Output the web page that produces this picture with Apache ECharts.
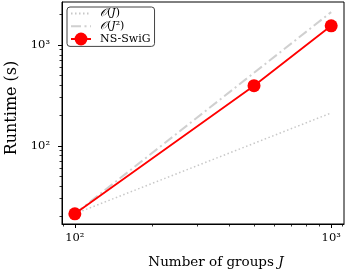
<!DOCTYPE html>
<html><head><meta charset="utf-8">
<script src="https://cdn.jsdelivr.net/npm/echarts@6/dist/echarts.min.js"></script>
<style>html,body{margin:0;padding:0;background:#fff}#c{width:346px;height:275px}</style>
</head><body><div id="c"></div>
<script>
const groupSizes = [100, 500, 1000];
const nsSwigRuntime = [21.2, 395, 1550];
const refJ = [100, 1000];
const orderJ = [21.2, 212];
const orderJ2 = [21.2, 2120];
const xMajorTicks = [100, 1000];
const xMinorTicks = [90, 200, 300, 400, 500, 600, 700, 800, 900, 1100];
const yMajorTicks = [100, 1000];
const yMinorTicks = [20, 30, 40, 50, 60, 70, 80, 90, 200, 300, 400, 500, 600, 700, 800, 900, 2000];
const xRange = [89.1, 1122];
const yRange = [16.8, 2670];
const tickLabels = {100: '10²', 1000: '10³'};
const legendNames = {
  oj: '{c|𝒪}({i|J})',
  oj2: '{c|𝒪}({i|J}²)',
  ns: 'NS-SwiG'
};

const FONT = 'DejaVu Serif';
const zip = (a, b) => a.map((v, i) => [v, b[i]]);
const fmt = v => tickLabels[Math.round(v)] || '';
const gridRect = {left: 62, right: 2, top: 2, bottom: 51, containLabel: false, outerBoundsMode: 'none'};

const logBase = range => ({type: 'log', logBase: 10, min: range[0], max: range[1], splitLine: {show: false}, minorTick: {show: false}});

const xMain = Object.assign(logBase(xRange), {
  gridIndex: 0, position: 'bottom',
  axisLine: {show: true, lineStyle: {color: '#000', width: 1}},
  axisTick: {show: true, customValues: xMajorTicks, length: 4, lineStyle: {color: '#000', width: 1}},
  axisLabel: {show: true, customValues: xMajorTicks, formatter: fmt, fontFamily: FONT, fontSize: 11.5, color: '#000', margin: 8},
  name: '{t|Number of groups }{j|J}', nameLocation: 'middle', nameGap: 31, nameMoveOverlap: false,
  nameTextStyle: {align: 'center', fontFamily: FONT, fontSize: 13.5, color: '#000', padding: [0, 0, 0, 26],
    rich: {t: {fontFamily: FONT, fontSize: 13.5, color: '#000'}, j: {fontFamily: FONT, fontSize: 13.5, fontStyle: 'italic', color: '#000'}}}
});
const xMinor = Object.assign(logBase(xRange), {
  gridIndex: 1, position: 'bottom',
  axisLine: {show: false},
  axisTick: {show: true, customValues: xMinorTicks, length: 2.5, lineStyle: {color: '#000', width: 0.8}},
  axisLabel: {show: false}
});
const yMain = Object.assign(logBase(yRange), {
  gridIndex: 0, position: 'left',
  axisLine: {show: true, lineStyle: {color: '#000', width: 1}},
  axisTick: {show: true, customValues: yMajorTicks, length: 4, lineStyle: {color: '#000', width: 1}},
  axisLabel: {show: true, customValues: yMajorTicks, formatter: fmt, fontFamily: FONT, fontSize: 11.5, color: '#000', margin: 12},
  name: 'Runtime (s)', nameLocation: 'middle', nameGap: 42, nameRotate: 90, nameMoveOverlap: false,
  nameTextStyle: {fontFamily: FONT, fontSize: 16, color: '#000', padding: [0, 0, 0, 10]}
});
const yMinor = Object.assign(logBase(yRange), {
  gridIndex: 1, position: 'left',
  axisLine: {show: false},
  axisTick: {show: true, customValues: yMinorTicks, length: 2.5, lineStyle: {color: '#000', width: 0.8}},
  axisLabel: {show: false}
});

const chart = echarts.init(document.getElementById('c'), null, {renderer: 'canvas'});
chart.setOption({
  animation: false,
  backgroundColor: '#fff',
  grid: [
    Object.assign({show: true, borderColor: '#000', borderWidth: 1, backgroundColor: 'transparent'}, gridRect),
    Object.assign({show: false}, gridRect)
  ],
  xAxis: [xMain, xMinor],
  yAxis: [yMain, yMinor],
  legend: {
    orient: 'vertical', left: 67, top: 7,
    padding: [0, 4, 1, 3], itemGap: 0, itemWidth: 20, itemHeight: 16,
    borderColor: '#444', borderWidth: 1, borderRadius: 3, backgroundColor: '#fff',
    data: [
      {name: 'oj', itemStyle: {opacity: 0}},
      {name: 'oj2', itemStyle: {opacity: 0}},
      {name: 'ns'}
    ],
    formatter: n => legendNames[n],
    textStyle: {fontFamily: FONT, fontSize: 11, color: '#000', padding: [0, 0, 0, 4],
      rich: {c: {fontFamily: FONT, fontSize: 11, fontStyle: 'italic'}, i: {fontFamily: FONT, fontSize: 11, fontStyle: 'italic'}}}
  },
  series: [
    {name: 'oj', type: 'line', xAxisIndex: 0, yAxisIndex: 0, data: zip(refJ, orderJ), symbol: 'none',
      lineStyle: {color: '#c8c8c8', width: 1.5, type: [1.5, 2.5]}, itemStyle: {color: '#c8c8c8'}, z: 2},
    {name: 'oj2', type: 'line', xAxisIndex: 0, yAxisIndex: 0, data: zip(refJ, orderJ2), symbol: 'none',
      lineStyle: {color: '#d0d0d0', width: 2, type: [10, 3.5, 2, 3.5]}, itemStyle: {color: '#d0d0d0'}, z: 3},
    {name: 'ns', type: 'line', xAxisIndex: 0, yAxisIndex: 0, data: zip(groupSizes, nsSwigRuntime), symbol: 'circle', symbolSize: 13,
      lineStyle: {color: '#ff0000', width: 1.8}, itemStyle: {color: '#ff0000'}, z: 4}
  ]
});
</script></body></html>
